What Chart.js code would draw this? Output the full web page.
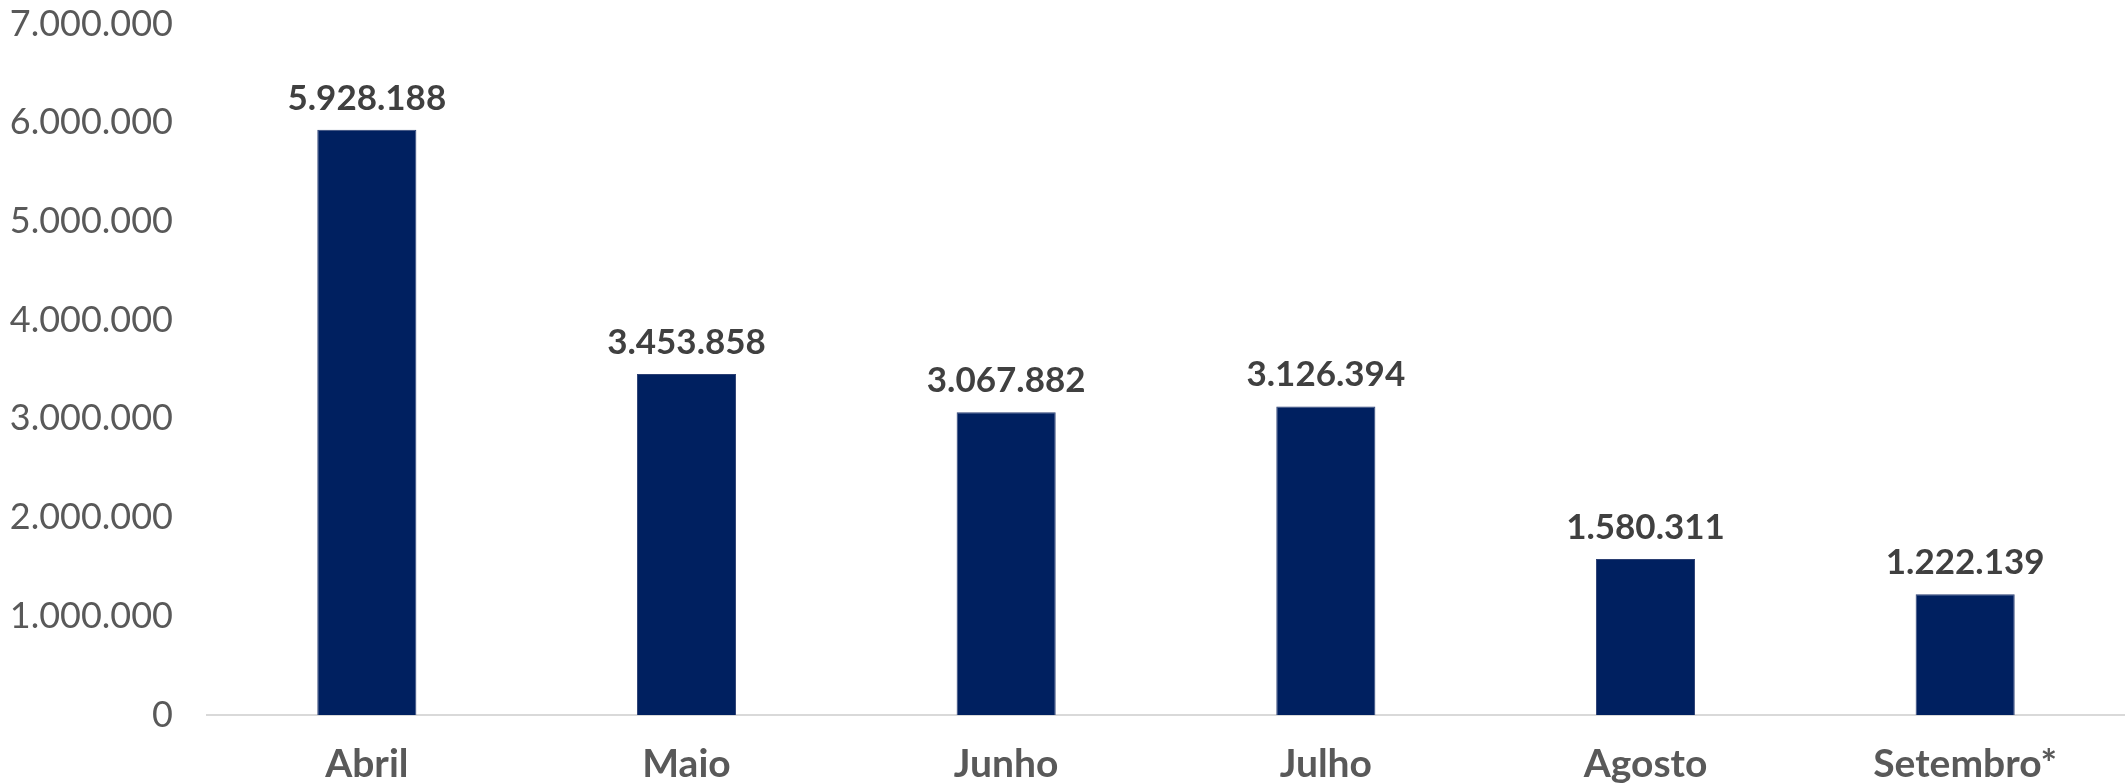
<!DOCTYPE html>
<html>
<head>
<meta charset="utf-8">
<script src="https://cdn.jsdelivr.net/npm/chart.js@4.4.0/dist/chart.umd.min.js"></script>
<style>
  html, body { margin: 0; padding: 0; background: #fff; }
  #wrap { width: 2125px; height: 784px; }
</style>
</head>
<body>
<div id="wrap"><canvas id="myChart" width="2125" height="784"></canvas></div>
<script>
const labels = ["Abril", "Maio", "Junho", "Julho", "Agosto", "Setembro*"];
const values = [5928188, 3453858, 3067882, 3126394, 1580311, 1222139];
const yTicks = [0, 1000000, 2000000, 3000000, 4000000, 5000000, 6000000, 7000000];

const fmt = (n) => String(n).replace(/\B(?=(\d{3})+(?!\d))/g, ".");

const FONT = "Lato, 'Open Sans', sans-serif";

// value labels above each bar
const barLabels = {
  id: "barLabels",
  afterDatasetsDraw(chart) {
    const ctx = chart.ctx;
    const meta = chart.getDatasetMeta(0);
    ctx.save();
    ctx.font = "bold 35px " + FONT;
    ctx.fillStyle = "#404040";
    ctx.textAlign = "center";
    ctx.textBaseline = "bottom";
    meta.data.forEach((bar, i) => {
      ctx.fillText(fmt(values[i]), bar.x, bar.y - 14);
    });
    ctx.restore();
  },
};

const ctx = document.getElementById("myChart").getContext("2d");

const myChart = new Chart(ctx, {
  type: "bar",
  data: {
    labels,
    datasets: [
      {
        data: values,
        backgroundColor: "#002060",
        borderColor: "#2b3f73",
        borderWidth: 1,
        barPercentage: 0.31,
        categoryPercentage: 1,
      },
    ],
  },
  options: {
    responsive: false,
    animation: false,
    layout: { padding: { top: 24, right: 0, bottom: 0, left: 0 } },
    plugins: { legend: { display: false }, tooltip: { enabled: false } },
    scales: {
      x: {
        grid: { display: false, drawTicks: false },
        border: { color: "#d9d9d9", width: 2 },
        ticks: {
          color: "#595959",
          font: { family: FONT, size: 39, weight: "bold" },
          padding: 26,
        },
        afterFit(scale) { scale.height = 69; },
      },
      y: {
        min: 0,
        max: 7000000,
        afterBuildTicks(scale) { scale.ticks = yTicks.map((v) => ({ value: v })); },
        grid: { display: false, drawTicks: false },
        border: { display: false },
        ticks: {
          color: "#595959",
          font: { family: FONT, size: 36 },
          padding: 34,
          callback: (v) => fmt(v),
        },
        afterFit(scale) {
          scale.width = 207;
          scale.paddingTop = 0;
          scale.paddingBottom = 0;
        },
      },
    },
  },
  plugins: [barLabels],
});
</script>
</body>
</html>
